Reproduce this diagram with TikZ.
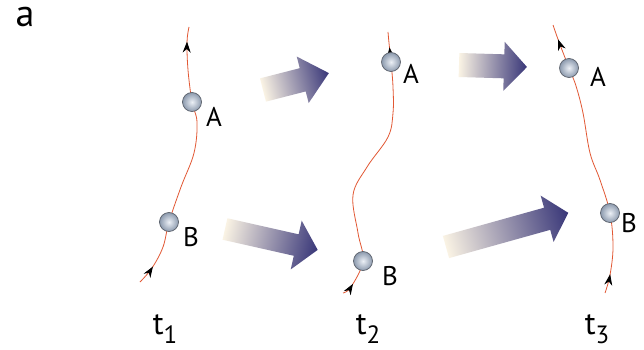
\documentclass[tikz,border=0pt]{standalone}
\usepackage{fontspec}
\setmainfont{PT Sans}
\usetikzlibrary{arrows.meta,decorations.markings}
\definecolor{curvecol}{RGB}{226,88,52}
\definecolor{tailcol}{RGB}{250,243,228}
\definecolor{midcol}{RGB}{146,134,178}
\definecolor{headcol}{RGB}{56,54,120}
\definecolor{ballin}{RGB}{236,240,246}
\definecolor{ballout}{RGB}{140,154,174}
\definecolor{ballline}{RGB}{90,96,106}
\newcommand\fatarr[7]{%
  \shade[transform canvas={shift={(#1,#2)},rotate=#3},
    left color=tailcol, middle color=midcol, right color=headcol]
    (0,-#5) -- (#4,-#5) -- (#4,-#6) -- ({#4+#7},0) -- (#4,#6) -- (#4,#5) -- (0,#5) -- cycle;}
\tikzset{
  curve/.style={draw=curvecol, line width=0.8pt, postaction={decorate},
    decoration={markings,
      mark=at position #1 with {\arrow[black]{Stealth[length=11pt,width=8pt]}},
      mark=at position 0.945 with {\arrow[black]{Stealth[length=11pt,width=8pt]}}}},
  ball/.style={circle, minimum size=19pt, inner sep=0pt, inner color=ballin,
    outer color=ballout, draw=ballline, line width=0.7pt},
  lab/.style={font=\fontsize{27}{27}\selectfont, inner sep=0pt},
  tlab/.style={font=\fontsize{32}{32}\selectfont, inner sep=0pt}
}
\newcommand\sub[1]{\raisebox{-9pt}{\fontsize{25}{25}\selectfont #1}}
\begin{document}
\begin{tikzpicture}[x=1pt,y=-1pt]
\useasboundingbox (0,0) rectangle (644,350);
\fill[white] (0,0) rectangle (644,350);

% ball positions
\coordinate (pA1) at (192,102);
\coordinate (pB1) at (169,222);
\coordinate (pA2) at (391,62);
\coordinate (pB2) at (363,261);
\coordinate (pA3) at (569,68);
\coordinate (pB3) at (610,213);

% curves
\draw[curve=0.075] plot[smooth, tension=0.6] coordinates {(140,282) (152,268) (163,247) (pB1) (181,187) (194,153) (197,122) (pA1) (188,70) (187,42) (189,27)};
\draw[curve=0.05] plot[smooth, tension=0.6] coordinates {(343,293) (351,287) (pB2) (358,233) (353,195) (367,167) (388,137) (393,113) (393,87) (pA2) (389,43) (388,32)};
\draw[curve=0.07] plot[smooth, tension=0.6] coordinates {(605,293) (610,275) (613,247) (pB3) (600,180) (590,153) (583,113) (576,86) (pA3) (559,42) (553,25)};

% balls
\node[ball] (A1) at (pA1) {};
\node[ball] (B1) at (pB1) {};
\node[ball] (A2) at (pA2) {};
\node[ball] (B2) at (pB2) {};
\node[ball] (A3) at (pA3) {};
\node[ball] (B3) at (pB3) {};

% ball labels
\node[lab] (lA1) at (214,117) {A};
\node[lab] (lB1) at (191,237) {B};
\node[lab] (lA2) at (411,74) {A};
\node[lab] (lB2) at (390,276) {B};
\node[lab] (lA3) at (598,77) {A};
\node[lab] (lB3) at (629,223) {B};

% fat arrows
\fatarr{263}{90}{14.4}{41}{12}{24}{27}
\fatarr{225}{229}{-12.7}{73}{11}{25}{22}
\fatarr{459}{65}{-1.7}{45}{12}{24.5}{23}
\fatarr{446}{247}{15.6}{105}{11.5}{24}{22}

% time labels
\node[tlab] (t1) at (165,329) {t\sub{1}};
\node[tlab] (t2) at (368,329) {t\sub{2}};
\node[tlab] (t3) at (597,329) {t\sub{3}};

% panel letter
\node[font=\fontsize{38}{38}\selectfont, inner sep=0pt] (pa) at (25,17) {a};
\end{tikzpicture}
\end{document}
